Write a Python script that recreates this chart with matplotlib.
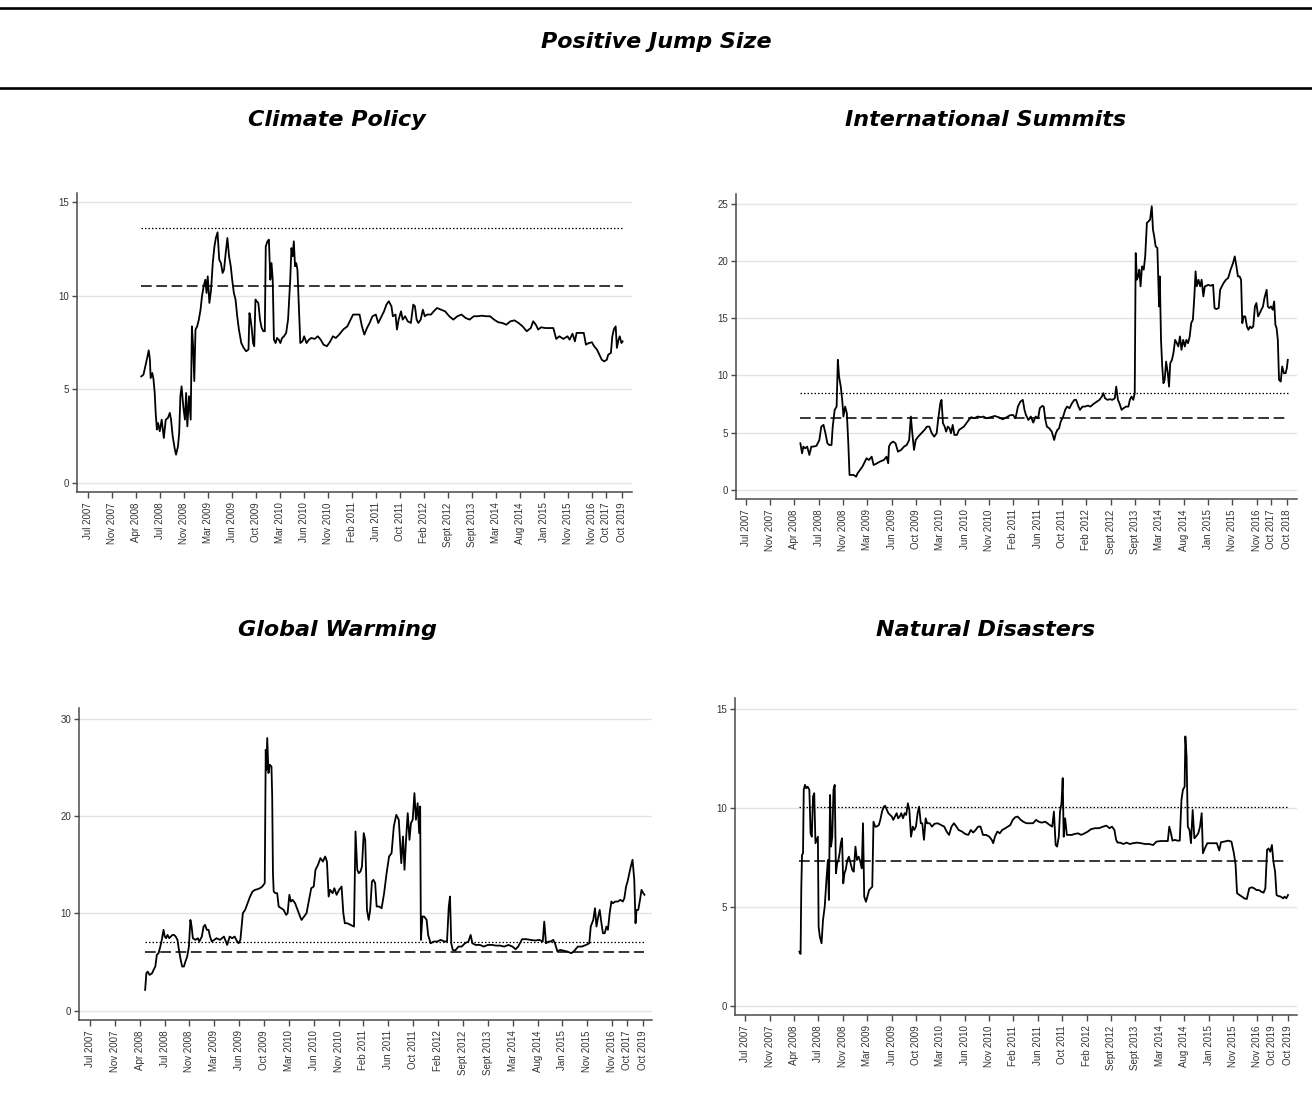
import matplotlib
matplotlib.use("Agg")
import matplotlib.pyplot as plt
from matplotlib.lines import Line2D

# x axis is the observation index, labelled with the dates shown in the source
base_labels = ["Jul 2007", "Nov 2007", "Apr 2008", "Jul 2008", "Nov 2008", "Mar 2009",
               "Jun 2009", "Oct 2009", "Mar 2010", "Jun 2010", "Nov 2010", "Feb 2011",
               "Jun 2011", "Oct 2011", "Feb 2012", "Sept 2012", "Sept 2013", "Mar 2014",
               "Aug 2014", "Jan 2015", "Nov 2015", "Nov 2016"]
labels_cp = base_labels + ["Oct 2017", "Oct 2019"]
labels_is = base_labels + ["Oct 2017", "Oct 2018"]
labels_gw = base_labels + ["Oct 2017", "Oct 2019"]
labels_nd = base_labels + ["Oct 2019", "Oct 2019"]
tick_idx = list(range(22)) + [21.6, 22.26]

# Climate Policy
cp_x = [2.21, 2.30, 2.38, 2.47, 2.52, 2.57, 2.60, 2.67, 2.72, 2.77, 2.81, 2.86, 2.91, 2.98, 3.06,
        3.15, 3.23, 3.32, 3.40, 3.45, 3.52, 3.61, 3.66, 3.74, 3.79, 3.84, 3.89, 3.96, 4.03, 4.08,
        4.13, 4.20, 4.27, 4.32, 4.37, 4.42, 4.47, 4.54, 4.61, 4.68, 4.74, 4.81, 4.88, 4.93, 4.98,
        5.05, 5.12, 5.19, 5.26, 5.32, 5.39, 5.46, 5.53, 5.60, 5.66, 5.73, 5.80, 5.87, 5.94, 6.00,
        6.07, 6.14, 6.21, 6.28, 6.38, 6.48, 6.58, 6.68, 6.72, 6.77, 6.82, 6.87, 6.92, 6.97, 7.02,
        7.09, 7.16, 7.23, 7.30, 7.36, 7.40, 7.47, 7.53, 7.59, 7.64, 7.69, 7.74, 7.81, 7.87, 7.94,
        8.01, 8.08, 8.16, 8.25, 8.33, 8.42, 8.47, 8.52, 8.57, 8.62, 8.67, 8.72, 8.79, 8.84, 8.93,
        9.00, 9.10, 9.20, 9.30, 9.44, 9.57, 9.69, 9.81, 9.95, 10.09, 10.20, 10.32, 10.46, 10.63,
        10.80, 10.94, 11.04, 11.14, 11.31, 11.41, 11.51, 11.62, 11.73, 11.85, 11.99, 12.09, 12.23,
        12.33, 12.43, 12.53, 12.64, 12.70, 12.81, 12.87, 12.94, 13.04, 13.11, 13.21, 13.32, 13.45,
        13.55, 13.62, 13.69, 13.76, 13.86, 13.95, 14.03, 14.13, 14.29, 14.40, 14.54, 14.71, 14.88,
        15.05, 15.22, 15.39, 15.56, 15.73, 15.90, 16.07, 16.24, 16.41, 16.58, 16.75, 16.92, 17.09,
        17.26, 17.43, 17.60, 17.77, 17.94, 18.11, 18.28, 18.45, 18.55, 18.66, 18.76, 18.88, 19.05,
        19.22, 19.39, 19.51, 19.64, 19.81, 19.98, 20.07, 20.19, 20.29, 20.36, 20.49, 20.66, 20.75,
        20.87, 21.00, 21.09, 21.21, 21.31, 21.41, 21.51, 21.62, 21.68, 21.79, 21.85, 21.92, 21.99,
        22.04, 22.11, 22.16, 22.23, 22.28]
cp_y = [5.69, 5.78, 6.23, 6.76, 7.08, 6.58, 5.60, 5.87, 5.52, 4.80, 3.74, 2.85, 3.20, 2.76, 3.38,
        2.40, 3.38, 3.47, 3.74, 3.38, 2.49, 1.78, 1.51, 1.96, 2.67, 4.63, 5.16, 4.09, 3.38, 4.80,
        3.02, 4.63, 3.38, 8.36, 7.30, 5.44, 8.19, 8.36, 8.72, 9.25, 9.96, 10.50, 10.85, 10.14, 11.03,
        9.61, 10.32, 11.74, 12.63, 13.08, 13.38, 11.92, 11.74, 11.21, 11.39, 12.28, 13.08, 12.10, 11.57, 10.85,
        10.14, 9.79, 8.90, 8.19, 7.47, 7.21, 7.03, 7.12, 9.07, 8.72, 8.19, 7.47, 7.30, 9.79, 9.70,
        9.61, 8.72, 8.27, 8.10, 8.10, 12.63, 12.90, 12.99, 10.85, 11.74, 10.85, 7.65, 7.47, 7.74, 7.65,
        7.47, 7.74, 7.83, 8.01, 8.72, 10.85, 12.54, 12.10, 12.90, 11.57, 11.74, 11.39, 9.07, 7.47, 7.56,
        7.83, 7.47, 7.65, 7.74, 7.69, 7.83, 7.65, 7.38, 7.30, 7.56, 7.83, 7.74, 7.92, 8.19,
        8.36, 8.72, 8.99, 8.99, 8.99, 8.36, 7.92, 8.27, 8.54, 8.90, 8.99, 8.54, 8.90,
        9.16, 9.52, 9.70, 9.43, 8.90, 8.99, 8.19, 8.72, 9.16, 8.72, 8.90, 8.63, 8.54,
        9.52, 9.43, 8.72, 8.54, 8.72, 9.25, 8.90, 8.99, 8.99, 9.16, 9.34, 9.25, 9.16,
        8.90, 8.72, 8.90, 8.99, 8.81, 8.72, 8.90, 8.90, 8.93, 8.90, 8.90, 8.72, 8.58,
        8.54, 8.45, 8.63, 8.68, 8.54, 8.36, 8.10, 8.27, 8.63, 8.45, 8.19, 8.31, 8.27,
        8.27, 8.27, 7.69, 7.83, 7.69, 7.83, 7.65, 7.97, 7.56, 8.01, 8.01, 8.01, 7.38,
        7.47, 7.51, 7.30, 7.12, 6.85, 6.58, 6.49, 6.58, 6.85, 6.94, 7.83, 8.22, 8.36,
        7.21, 7.65, 7.83, 7.47, 7.56]

# International Summits
is_x = [2.25, 2.32, 2.37, 2.45, 2.53, 2.62, 2.70, 2.78, 2.91, 3.03, 3.11, 3.20, 3.28, 3.36, 3.44,
        3.53, 3.58, 3.66, 3.74, 3.79, 3.84, 3.91, 3.97, 4.02, 4.09, 4.16, 4.22, 4.27, 4.35, 4.44,
        4.54, 4.60, 4.70, 4.80, 4.90, 4.97, 5.07, 5.18, 5.26, 5.40, 5.51, 5.68, 5.79, 5.86, 5.89,
        5.96, 6.06, 6.16, 6.26, 6.39, 6.51, 6.62, 6.72, 6.79, 6.85, 6.92, 6.99, 7.09, 7.22, 7.35,
        7.45, 7.55, 7.65, 7.75, 7.85, 7.91, 8.00, 8.05, 8.11, 8.18, 8.24, 8.31, 8.38, 8.44, 8.51,
        8.58, 8.68, 8.77, 8.87, 8.97, 9.07, 9.17, 9.27, 9.40, 9.54, 9.67, 9.77, 9.90, 10.07, 10.23,
        10.40, 10.56, 10.73, 10.86, 10.99, 11.09, 11.19, 11.29, 11.39, 11.46, 11.52, 11.62, 11.72,
        11.82, 11.92, 12.02, 12.09, 12.19, 12.25, 12.32, 12.38, 12.48, 12.58, 12.68, 12.75, 12.81,
        12.88, 12.95, 13.05, 13.13, 13.21, 13.31, 13.41, 13.51, 13.58, 13.68, 13.74, 13.84, 13.94,
        14.07, 14.17, 14.30, 14.44, 14.54, 14.64, 14.70, 14.77, 14.87, 14.97, 15.07, 15.17, 15.23,
        15.30, 15.36, 15.45, 15.53, 15.63, 15.73, 15.79, 15.86, 15.93, 15.99, 16.03, 16.08, 16.13,
        16.18, 16.23, 16.29, 16.36, 16.42, 16.49, 16.56, 16.62, 16.69, 16.74, 16.79, 16.85, 16.92,
        16.99, 17.02, 17.07, 17.12, 17.17, 17.22, 17.28, 17.35, 17.40, 17.45, 17.52, 17.58, 17.65,
        17.72, 17.78, 17.85, 17.91, 17.98, 18.05, 18.11, 18.18, 18.25, 18.31, 18.38, 18.44, 18.49,
        18.54, 18.61, 18.68, 18.74, 18.81, 18.87, 18.94, 19.01, 19.11, 19.21, 19.27, 19.34, 19.44,
        19.50, 19.57, 19.64, 19.74, 19.83, 19.93, 20.03, 20.10, 20.17, 20.23, 20.30, 20.36, 20.41,
        20.46, 20.53, 20.60, 20.66, 20.73, 20.79, 20.86, 20.93, 20.99, 21.06, 21.13, 21.19, 21.26,
        21.32, 21.41, 21.46, 21.52, 21.59, 21.66, 21.72, 21.77, 21.82, 21.87, 21.92, 21.99, 22.05,
        22.12, 22.19, 22.24, 22.28]
is_y = [4.06, 3.18, 3.77, 3.62, 3.77, 3.04, 3.77, 3.77, 3.83, 4.35, 5.52, 5.67, 4.94, 4.06, 3.91,
        3.91, 5.52, 6.98, 7.27, 11.36, 9.90, 9.02, 7.86, 6.40, 7.27, 6.69, 4.06, 1.29, 1.29, 1.29,
        1.14, 1.43, 1.72, 2.02, 2.45, 2.75, 2.60, 2.89, 2.16, 2.31, 2.45, 2.60, 2.89, 2.31, 3.77,
        4.06, 4.21, 4.06, 3.33, 3.48, 3.77, 3.91, 4.35, 6.40, 4.94, 3.48, 4.35, 4.64, 4.94, 5.23,
        5.52, 5.52, 4.94, 4.64, 4.94, 6.10, 7.56, 7.86, 5.81, 5.52, 5.08, 5.52, 5.37, 4.94, 5.67,
        4.79, 4.79, 5.23, 5.37, 5.52, 5.81, 6.10, 6.34, 6.25, 6.40, 6.34, 6.40, 6.25, 6.34, 6.45,
        6.34, 6.16, 6.34, 6.51, 6.54, 6.25, 7.27, 7.71, 7.86, 6.98, 6.54, 6.10, 6.40,
        5.87, 6.40, 6.25, 7.13, 7.33, 7.27, 6.10, 5.52, 5.37, 5.08, 4.35, 4.94, 5.23,
        5.37, 5.96, 6.40, 6.98, 7.27, 7.13, 7.56, 7.86, 7.86, 7.27, 6.98, 7.27, 7.27,
        7.36, 7.27, 7.51, 7.71, 7.86, 8.15, 8.44, 8.00, 7.86, 7.92, 7.86, 8.00, 9.02,
        7.86, 7.56, 6.98, 7.13, 7.27, 7.27, 7.86, 8.15, 7.86, 8.44, 20.70, 18.37, 18.66,
        19.25, 17.79, 19.54, 19.25, 20.41, 23.34, 23.48, 23.63, 24.80, 22.75, 22.17, 21.29, 21.14,
        16.03, 18.66, 13.11, 10.78, 9.32, 9.61, 11.21, 10.19, 9.02, 11.07, 11.36, 11.95, 13.11,
        12.82, 12.53, 13.41, 12.24, 13.11, 12.53, 13.11, 12.82, 13.41, 14.57, 14.87, 16.91, 19.10,
        17.79, 18.37, 17.79, 18.37, 16.91, 17.79, 17.84, 17.93, 17.84, 17.93, 15.89, 15.80, 15.89,
        17.49, 17.79, 18.08, 18.37, 18.52, 19.25, 19.83, 20.41, 19.54, 18.66, 18.66, 18.37, 14.57,
        15.16, 15.16, 14.28, 13.99, 14.28, 14.13, 14.28, 16.03, 16.33, 15.16, 15.45, 15.74, 16.03,
        16.76, 17.49, 16.03, 15.89, 16.03, 15.74, 16.47, 14.43, 14.13, 13.11, 9.61, 9.46, 10.78,
        10.19, 10.19, 10.63, 11.36]

# Global Warming
gw_x = [2.22, 2.27, 2.32, 2.40, 2.50, 2.56, 2.63, 2.69, 2.76, 2.83, 2.89, 2.96, 3.01, 3.06, 3.12,
        3.19, 3.25, 3.32, 3.38, 3.45, 3.52, 3.58, 3.65, 3.71, 3.78, 3.84, 3.91, 3.98, 4.04, 4.09,
        4.14, 4.24, 4.34, 4.40, 4.50, 4.57, 4.63, 4.70, 4.77, 4.83, 4.90, 5.00, 5.09, 5.23, 5.39,
        5.52, 5.62, 5.72, 5.82, 5.92, 5.98, 6.05, 6.15, 6.24, 6.34, 6.44, 6.54, 6.64, 6.74, 6.84,
        6.93, 7.03, 7.07, 7.10, 7.13, 7.18, 7.23, 7.30, 7.33, 7.36, 7.39, 7.46, 7.53, 7.59, 7.69,
        7.79, 7.89, 7.95, 8.02, 8.08, 8.15, 8.25, 8.35, 8.45, 8.51, 8.61, 8.71, 8.81, 8.90, 9.00,
        9.07, 9.17, 9.27, 9.37, 9.46, 9.53, 9.60, 9.66, 9.76, 9.83, 9.92, 10.02, 10.12, 10.19, 10.25,
        10.35, 10.48, 10.62, 10.68, 10.75, 10.81, 10.88, 10.94, 11.01, 11.07, 11.11, 11.14, 11.21,
        11.27, 11.34, 11.40, 11.47, 11.53, 11.63, 11.73, 11.83, 11.93, 12.03, 12.13, 12.22, 12.32,
        12.42, 12.52, 12.59, 12.65, 12.72, 12.78, 12.85, 12.91, 12.98, 13.05, 13.11, 13.18, 13.24,
        13.28, 13.31, 13.37, 13.44, 13.54, 13.60, 13.70, 13.83, 13.97, 14.10, 14.26, 14.36, 14.43,
        14.48, 14.53, 14.59, 14.69, 14.82, 14.95, 15.08, 15.22, 15.31, 15.38, 15.51, 15.68, 15.84,
        16.00, 16.17, 16.33, 16.50, 16.66, 16.83, 16.99, 17.12, 17.22, 17.38, 17.55, 17.71, 17.91,
        18.07, 18.21, 18.27, 18.34, 18.44, 18.53, 18.63, 18.70, 18.80, 18.90, 19.03, 19.19, 19.36,
        19.49, 19.62, 19.78, 19.95, 20.08, 20.14, 20.24, 20.31, 20.37, 20.44, 20.50, 20.57, 20.63,
        20.70, 20.77, 20.83, 20.90, 20.97, 21.03, 21.13, 21.23, 21.33, 21.43, 21.49, 21.56, 21.62,
        21.69, 21.75, 21.82, 21.89, 21.94, 21.98, 22.05, 22.12, 22.18, 22.25, 22.30]
gw_y = [2.13, 3.84, 4.01, 3.67, 3.84, 4.18, 4.53, 5.73, 5.90, 6.58, 7.27, 8.30, 7.61, 7.44, 7.78,
        7.44, 7.61, 7.78, 7.78, 7.61, 7.27, 6.24, 5.21, 4.53, 4.53, 5.04, 5.55, 6.58, 9.32, 8.64,
        7.44, 7.27, 7.44, 7.10, 7.61, 8.64, 8.81, 8.30, 8.30, 7.61, 7.10, 7.27, 7.44, 7.27, 7.61,
        6.75, 7.61, 7.44, 7.61, 7.10, 6.92, 7.27, 10.01, 10.35, 11.04, 11.72, 12.24, 12.41, 12.48, 12.58,
        12.75, 13.10, 26.81, 24.75, 28.01, 24.41, 25.27, 25.09, 22.01, 14.12, 12.24, 12.07, 12.07, 10.70, 10.52,
        10.35, 9.84, 10.01, 11.90, 11.21, 11.38, 11.04, 10.35, 9.67, 9.32, 9.67, 10.01, 11.38, 12.58, 12.75,
        14.47, 14.98, 15.67, 15.32, 15.84, 15.32, 11.72, 12.41, 12.07, 12.58, 11.90, 12.41, 12.75, 10.01, 8.98,
        8.98, 8.81, 8.64, 18.41, 14.47, 14.12, 14.30, 14.81, 18.24, 17.55, 13.78, 10.35, 9.32,
        10.35, 13.27, 13.44, 13.10, 10.70, 10.70, 10.52, 12.07, 14.12, 15.84, 16.18, 18.92, 20.12,
        19.61, 15.15, 17.90, 14.47, 17.90, 20.29, 17.55, 19.27, 19.61, 22.35, 19.61, 21.32, 18.24,
        20.98, 7.27, 9.67, 9.67, 9.32, 7.78, 6.92, 7.10, 7.10, 7.27, 7.10, 7.10, 10.70,
        11.72, 6.92, 6.24, 6.17, 6.58, 6.58, 6.92, 7.10, 7.78, 6.92, 6.75, 6.75, 6.58,
        6.75, 6.75, 6.68, 6.68, 6.58, 6.75, 6.58, 6.31, 6.58, 7.34, 7.34, 7.27, 7.20,
        7.27, 7.10, 9.15, 6.92, 7.10, 7.10, 7.27, 6.92, 6.07, 6.24, 6.17, 6.07, 5.90,
        6.17, 6.58, 6.58, 6.75, 6.92, 8.64, 9.32, 10.52, 8.64, 9.67, 10.35, 8.98, 7.95,
        7.95, 8.64, 8.30, 10.01, 11.21, 11.04, 11.21, 11.21, 11.38, 11.21, 11.55, 12.75, 13.27,
        14.12, 14.81, 15.50, 13.44, 8.98, 10.35, 10.35, 11.38, 12.41, 12.07, 11.90]

# Natural Disasters
nd_x = [2.22, 2.27, 2.30, 2.33, 2.37, 2.40, 2.45, 2.50, 2.56, 2.63, 2.68, 2.73, 2.78, 2.83, 2.88,
        2.93, 2.98, 3.01, 3.06, 3.13, 3.19, 3.26, 3.33, 3.39, 3.43, 3.48, 3.52, 3.57, 3.62, 3.67,
        3.72, 3.77, 3.82, 3.87, 3.92, 3.97, 4.02, 4.07, 4.12, 4.19, 4.25, 4.32, 4.39, 4.45, 4.52,
        4.58, 4.65, 4.72, 4.78, 4.83, 4.88, 4.95, 5.01, 5.08, 5.15, 5.21, 5.26, 5.33, 5.39, 5.48,
        5.54, 5.61, 5.68, 5.74, 5.81, 5.87, 5.94, 6.01, 6.07, 6.14, 6.21, 6.27, 6.34, 6.40, 6.47,
        6.54, 6.60, 6.67, 6.73, 6.80, 6.87, 6.93, 7.00, 7.07, 7.13, 7.20, 7.26, 7.33, 7.40, 7.46,
        7.56, 7.66, 7.76, 7.89, 8.03, 8.16, 8.26, 8.36, 8.46, 8.56, 8.66, 8.75, 8.89, 9.02, 9.15,
        9.25, 9.35, 9.45, 9.55, 9.65, 9.75, 9.88, 10.01, 10.11, 10.17, 10.24, 10.34, 10.44, 10.54,
        10.67, 10.77, 10.87, 10.97, 11.07, 11.17, 11.30, 11.40, 11.53, 11.67, 11.80, 11.93, 12.03,
        12.16, 12.30, 12.39, 12.49, 12.59, 12.66, 12.73, 12.79, 12.86, 12.91, 12.97, 13.02, 13.06,
        13.12, 13.19, 13.26, 13.39, 13.52, 13.65, 13.78, 13.92, 14.05, 14.18, 14.35, 14.51, 14.68,
        14.81, 14.94, 15.04, 15.14, 15.21, 15.27, 15.37, 15.51, 15.64, 15.77, 15.90, 16.07, 16.23,
        16.40, 16.56, 16.73, 16.86, 17.03, 17.19, 17.33, 17.39, 17.46, 17.52, 17.62, 17.72, 17.82,
        17.89, 17.95, 18.02, 18.05, 18.10, 18.15, 18.22, 18.28, 18.35, 18.42, 18.48, 18.58, 18.65,
        18.72, 18.77, 18.85, 18.95, 19.08, 19.21, 19.34, 19.44, 19.51, 19.64, 19.81, 19.94, 20.04,
        20.11, 20.17, 20.27, 20.37, 20.47, 20.57, 20.67, 20.77, 20.87, 20.97, 21.07, 21.16, 21.26,
        21.33, 21.40, 21.46, 21.53, 21.60, 21.66, 21.73, 21.79, 21.86, 21.96, 22.06, 22.12, 22.19,
        22.26]
nd_y = [2.73, 2.62, 6.02, 7.63, 7.71, 10.92, 11.17, 11.00, 11.08, 10.92, 8.72, 8.55, 10.58, 10.75, 8.22,
        8.39, 8.55, 4.00, 3.49, 3.16, 4.34, 5.01, 6.36, 7.37, 5.35, 10.66, 8.05, 8.55, 10.92, 11.17,
        6.70, 7.20, 7.37, 7.71, 8.22, 8.47, 6.19, 6.70, 6.87, 7.37, 7.54, 7.20, 6.87, 6.78, 8.05,
        7.37, 7.54, 7.29, 6.95, 9.23, 5.52, 5.26, 5.52, 5.85, 5.94, 6.02, 9.31, 9.06, 9.06, 9.14,
        9.40, 9.82, 10.07, 10.11, 9.90, 9.74, 9.65, 9.57, 9.40, 9.57, 9.74, 9.48, 9.57, 9.74, 9.48,
        9.74, 9.65, 10.24, 9.90, 8.55, 9.06, 8.89, 9.06, 9.74, 10.07, 9.23, 9.23, 8.39, 9.48, 9.23,
        9.23, 9.06, 9.20, 9.23, 9.14, 9.06, 8.81, 8.64, 9.06, 9.23, 9.06, 8.89, 8.81, 8.69, 8.64,
        8.89, 8.76, 8.89, 9.06, 9.06, 8.64, 8.64, 8.55, 8.39, 8.22, 8.55, 8.81, 8.72, 8.89,
        8.98, 9.06, 9.14, 9.40, 9.53, 9.57, 9.40, 9.31, 9.23, 9.23, 9.23, 9.40, 9.31,
        9.26, 9.31, 9.23, 9.14, 9.06, 9.82, 8.13, 8.05, 8.55, 9.82, 10.24, 11.51, 8.55,
        9.48, 8.64, 8.64, 8.64, 8.69, 8.72, 8.64, 8.72, 8.81, 8.93, 8.98, 8.98, 9.06,
        9.11, 8.98, 9.06, 8.89, 8.39, 8.25, 8.25, 8.18, 8.25, 8.18, 8.22, 8.25, 8.22,
        8.18, 8.18, 8.13, 8.30, 8.33, 8.33, 8.33, 9.06, 8.72, 8.35, 8.39, 8.35, 8.35,
        10.41, 10.92, 11.08, 13.62, 12.60, 9.06, 8.89, 8.22, 9.90, 8.47, 8.55, 8.72, 9.06,
        9.74, 7.71, 7.96, 8.22, 8.22, 8.22, 8.22, 7.85, 8.27, 8.30, 8.35, 8.30, 7.71,
        7.12, 5.69, 5.60, 5.52, 5.43, 5.40, 5.94, 5.99, 5.94, 5.85, 5.85, 5.77, 5.72,
        5.94, 7.88, 7.96, 7.79, 8.13, 7.29, 6.78, 5.60, 5.55, 5.52, 5.43, 5.52, 5.43,
        5.60]

# reference levels: (dotted, long dash), drawn from the first to the last observation
cp_ref = (13.61, 10.53)
is_ref = (8.44, 6.31)
gw_ref = (7.10, 6.07)
nd_ref = (10.07, 7.34)

panels = [
    ("Climate Policy", cp_x, cp_y, cp_ref, labels_cp, [0, 5, 10, 15], (-0.48, 15.48), (-0.47, 22.67),
     [0.0587, 0.5580, 0.4230, 0.2686], (0.2569, 0.8922)),
    ("International Summits", is_x, is_y, is_ref, labels_is, [0, 5, 10, 15, 20, 25], (-0.81, 25.87),
     (-0.41, 22.66), [0.5607, 0.5517, 0.4279, 0.2740], (0.7515, 0.8922)),
    ("Global Warming", gw_x, gw_y, gw_ref, labels_gw, [0, 10, 20, 30], (-0.96, 31.1), (-0.44, 22.6),
     [0.0602, 0.0836, 0.4367, 0.2803], (0.2569, 0.4340)),
    ("Natural Disasters", nd_x, nd_y, nd_ref, labels_nd, [0, 5, 10, 15], (-0.47, 15.56), (-0.42, 22.63),
     [0.5602, 0.0880, 0.4284, 0.2848], (0.7515, 0.4340)),
]

fig = plt.figure(figsize=(13.12, 11.13), dpi=100)
fig.patch.set_facecolor("white")

title_font = dict(family="DejaVu Sans", fontsize=16, fontweight="bold", style="italic", color="black")
fig.text(0.5, 1 - 42 / 1113, "Positive Jump Size", ha="center", va="center", **title_font)
for yy in (1 - 8 / 1113, 1 - 88 / 1113):
    fig.add_artist(Line2D([0, 1], [yy, yy], transform=fig.transFigure, color="black", lw=1.9))

axis_col = "#4a4a4a"
for name, xs, ys, ref, labels, yticks, ylim, xlim, rect, tpos in panels:
    fig.text(tpos[0], tpos[1], name, ha="center", va="center", **title_font)
    ax = fig.add_axes(rect)
    ax.set_facecolor("white")
    for yt in yticks:
        ax.axhline(yt, color="#e4e4e4", lw=1.0, zorder=0)
    x0, x1 = xs[0], xs[-1]
    ax.plot([x0, x1], [ref[0], ref[0]], color="black", lw=0.9, linestyle=(0, (1.2, 1.6)), zorder=2)
    ax.plot([x0, x1], [ref[1], ref[1]], color="black", lw=1.1, linestyle=(0, (7, 3)), zorder=2)
    ax.plot(xs, ys, color="black", lw=1.3, zorder=3)
    ax.set_xlim(*xlim)
    ax.set_ylim(*ylim)
    ax.set_yticks(yticks)
    ax.set_yticklabels([str(v) for v in yticks])
    ax.set_xticks(tick_idx)
    ax.set_xticklabels(labels, rotation=90)
    for s in ("top", "right"):
        ax.spines[s].set_visible(False)
    for s in ("left", "bottom"):
        ax.spines[s].set_color(axis_col)
        ax.spines[s].set_linewidth(1.1)
    ax.tick_params(axis="x", length=4.5, width=1.0, color=axis_col, labelsize=7, labelcolor="#333333", pad=3)
    ax.tick_params(axis="y", length=3.5, width=1.0, color=axis_col, labelsize=7, labelcolor="#333333", pad=2)
    for lab in ax.get_xticklabels() + ax.get_yticklabels():
        lab.set_family("Liberation Sans")

fig.savefig("out.png", dpi=100, facecolor="white")
